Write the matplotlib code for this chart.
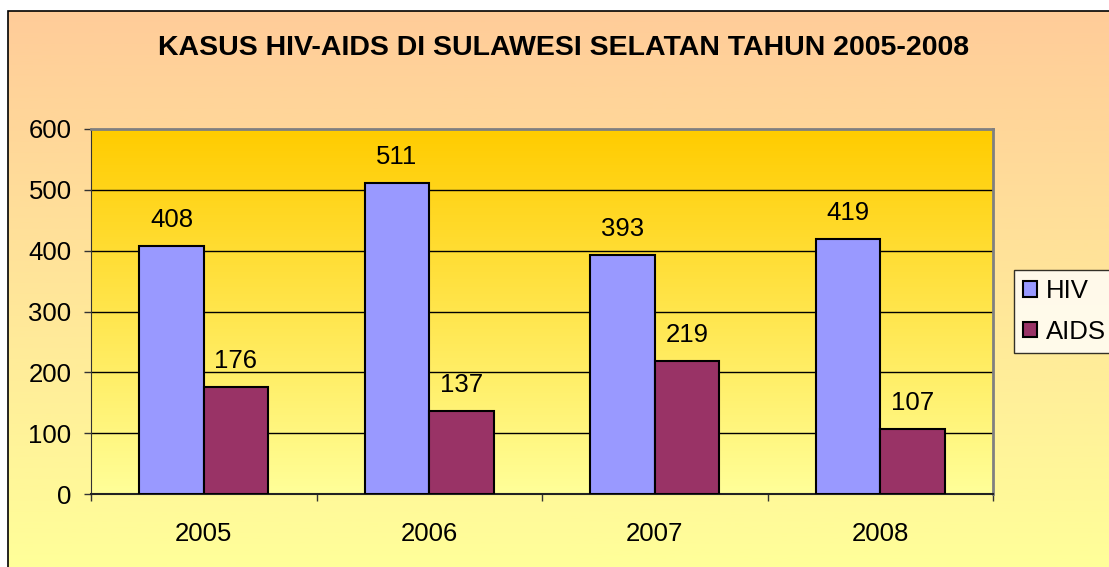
import numpy as np
import matplotlib.pyplot as plt
from matplotlib.colors import LinearSegmentedColormap
from matplotlib.patches import Rectangle

years = ["2005", "2006", "2007", "2008"]
hiv = [408, 511, 393, 419]
aids = [176, 137, 219, 107]
title = "KASUS HIV-AIDS DI SULAWESI SELATAN TAHUN 2005-2008"

plt.rcParams['font.family'] = ['Liberation Sans', 'DejaVu Sans']

W, H = 1109, 567
fig = plt.figure(figsize=(W / 100, H / 100), dpi=100)

# latar belakang gradasi (di dalam bingkai)
x0, ytop = 7.5 / W, 1 - 10.5 / H
bg = fig.add_axes([x0, 0, 1 - x0, ytop], zorder=0)
cmap_bg = LinearSegmentedColormap.from_list("bg", ["#FFFF99", "#FFCC99"])
bg.imshow(np.linspace(0, 1, 256).reshape(-1, 1), aspect='auto', cmap=cmap_bg,
          origin='lower', extent=[0, 1, 0, 1])
bg.set_axis_off()
fig.patches.append(Rectangle((x0, -0.1), 1.2, ytop + 0.1, transform=fig.transFigure,
                             fill=False, edgecolor='black', linewidth=1.2, zorder=10))

ax = fig.add_axes([91 / W, 1 - 494 / H, (993 - 91) / W, (494 - 129) / H], zorder=1)
ax.set_xlim(-0.5, 3.5)
ax.set_ylim(0, 600)
cmap_pa = LinearSegmentedColormap.from_list("pa", ["#FFFF99", "#FFCC00"])
ax.imshow(np.linspace(0, 1, 256).reshape(-1, 1), aspect='auto', cmap=cmap_pa,
          origin='lower', extent=[-0.5, 3.5, 0, 600], zorder=0)

x = np.arange(len(years))
w = 1 / 3.5
b1 = ax.bar(x - w / 2, hiv, w, color='#9999FF', edgecolor='black', linewidth=1.5, label='HIV', zorder=3)
b2 = ax.bar(x + w / 2, aids, w, color='#993366', edgecolor='black', linewidth=1.5, label='AIDS', zorder=3)

for bars, vals in [(b1, hiv), (b2, aids)]:
    for r, v in zip(bars, vals):
        ax.annotate(str(v), (r.get_x() + r.get_width() / 2, v), xytext=(0, 18.5),
                    textcoords='offset points', ha='center', va='center', fontsize=18.5)

ax.set_yticks(range(0, 601, 100))
for yv in range(100, 600, 100):
    ax.axhline(yv, color='black', linewidth=1, zorder=2)

ax.set_xticks(x)
ax.set_xticklabels(years, fontsize=18.5)
ax.set_xticks(np.arange(-0.5, 3.6, 1), minor=True)
ax.tick_params(axis='x', which='major', length=0, pad=20)
ax.tick_params(axis='x', which='minor', length=5, width=1, direction='out', color='#333333')
ax.tick_params(axis='y', length=5, width=1, direction='out', labelsize=18.5, pad=9, color='#333333')

for s in ['top', 'right']:
    ax.spines[s].set_color('#808080')
    ax.spines[s].set_linewidth(2)
ax.spines['left'].set_color('#333333')
ax.spines['bottom'].set_color('#222222')
ax.spines['bottom'].set_linewidth(1.5)

fig.text(0.508, 1 - 48 / H, title, ha='center', va='center', fontsize=20.5, fontweight='bold')

leg = fig.legend(handles=[b1, b2], loc='upper left', bbox_to_anchor=(1014 / W, 1 - 270 / H),
                 fontsize=18.5, frameon=True, fancybox=False, edgecolor='black',
                 handlelength=0.55, handleheight=0.55, handletextpad=0.35, borderpad=0.35,
                 labelspacing=0.65, borderaxespad=0)
leg.get_frame().set_linewidth(1)
leg.set_zorder(5)

fig.savefig("out.png", dpi=100, facecolor='white')
